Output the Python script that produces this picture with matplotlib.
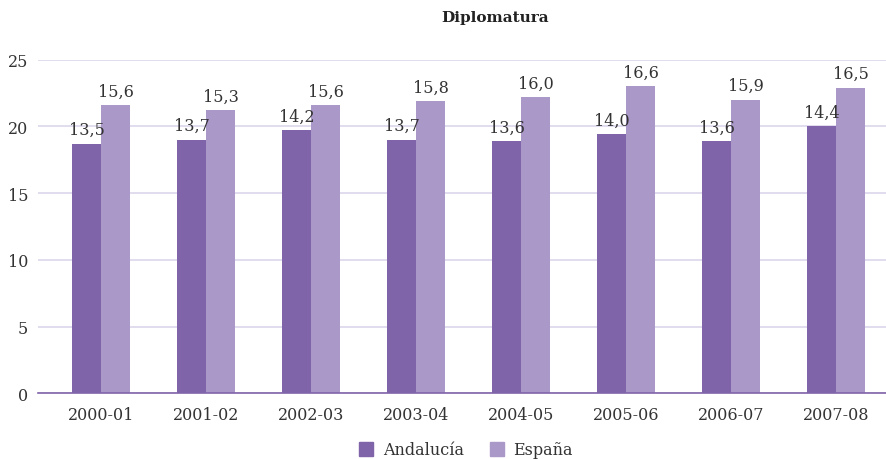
import matplotlib
matplotlib.use('Agg')
import matplotlib.pyplot as plt
import numpy as np
from matplotlib.patches import Patch

plt.rcParams['font.family'] = ['DejaVu Serif']

# cursos
cursos = ['2000-01', '2001-02', '2002-03', '2003-04', '2004-05', '2005-06', '2006-07', '2007-08']
# alturas de las barras tal como se ven en el gráfico
andalucia = [18.7, 19.0, 19.7, 19.0, 18.9, 19.4, 18.9, 20.0]
espana = [21.6, 21.2, 21.6, 21.9, 22.2, 23.0, 22.0, 22.9]
# etiquetas que se muestran encima de cada barra
etiq_andalucia = ['13,5', '13,7', '14,2', '13,7', '13,6', '14,0', '13,6', '14,4']
etiq_espana = ['15,6', '15,3', '15,6', '15,8', '16,0', '16,6', '15,9', '16,5']

c_and = '#8064aa'
c_esp = '#aa98c8'
c_txt = '#333333'

fig = plt.figure(figsize=(8.87, 4.6), dpi=100)
ax = fig.add_axes([38/887, 1-394.3/460, (887-38)/887, (394.3-60.7)/460])

x = np.arange(len(cursos))
w = 0.276
b1 = ax.bar(x - w/2, andalucia, w, color=c_and, zorder=3)
b2 = ax.bar(x + w/2, espana, w, color=c_esp, zorder=3)

for rect, t in zip(b1, etiq_andalucia):
    ax.annotate(t, (rect.get_x() + rect.get_width()/2, rect.get_height()),
                xytext=(0, 4), textcoords='offset points', ha='center', va='bottom',
                fontsize=11.5, color=c_txt)
for rect, t in zip(b2, etiq_espana):
    ax.annotate(t, (rect.get_x() + rect.get_width()/2, rect.get_height()),
                xytext=(0, 4), textcoords='offset points', ha='center', va='bottom',
                fontsize=11.5, color=c_txt)

ax.set_xlim(-0.6, 7.486)
ax.set_ylim(0, 25)
ax.set_yticks([0, 5, 10, 15, 20, 25])
ax.set_xticks(x)
ax.set_xticklabels(cursos)
ax.tick_params(axis='both', length=0, labelsize=11.5, colors=c_txt)
ax.tick_params(axis='x', pad=9)
ax.tick_params(axis='y', pad=7)
ax.grid(axis='y', color='#ddd5ec', linewidth=1.2, zorder=0)
for s in ['top', 'right', 'left']:
    ax.spines[s].set_visible(False)
ax.spines['bottom'].set_color(c_and)
ax.spines['bottom'].set_linewidth(1.2)
ax.spines['bottom'].set_zorder(4)

fig.text(495/887, 1-18/460, 'Diplomatura', ha='center', va='center',
         fontsize=11, fontweight='bold', color='#222222')

handles = [Patch(color=c_and, label='Andalucía'), Patch(color=c_esp, label='España')]
fig.legend(handles=handles, loc='center', bbox_to_anchor=(466/887, 1-451/460), ncol=2,
           frameon=False, fontsize=11.5, handlelength=0.9, handleheight=0.9,
           handletextpad=0.6, columnspacing=1.6, labelcolor=c_txt)

fig.savefig('out.png', dpi=100)
